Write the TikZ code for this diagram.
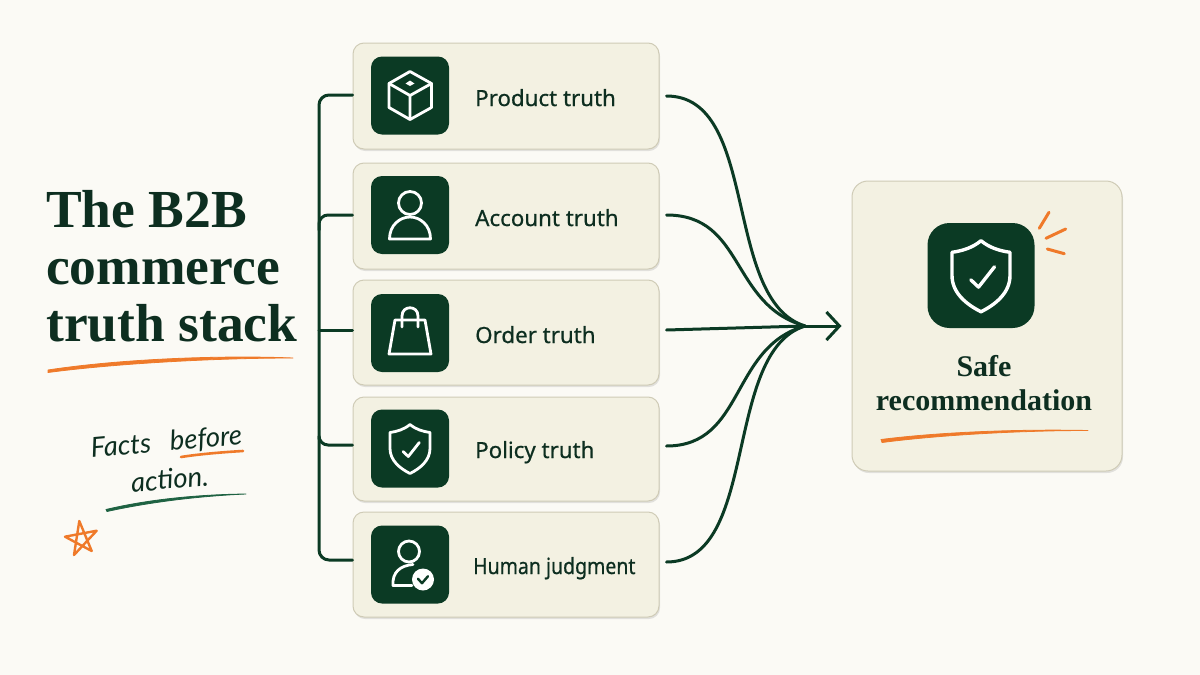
\documentclass[tikz,border=0pt]{standalone}
\usepackage{fontspec}
\setmainfont{Liberation Serif}
\newfontfamily\labelfont[FakeBold=0.6]{Noto Sans}
\newfontfamily\handfont{Lato}
\usetikzlibrary{arrows.meta,shadows}
\definecolor{paper}{HTML}{FBFAF5}
\definecolor{card}{HTML}{F3F1E2}
\definecolor{cardline}{HTML}{CFCBB6}
\definecolor{pine}{HTML}{0B3A24}
\definecolor{ink}{HTML}{0D2E20}
\definecolor{ember}{HTML}{EF7A2A}
\definecolor{moss}{HTML}{1E6242}
\tikzset{
	card/.style={draw=cardline,line width=1pt,fill=card,rounded corners=11pt,minimum width=306pt,
		drop shadow={shadow xshift=1pt,shadow yshift=-2pt,opacity=.1,fill=black}},
	tile/.style={fill=pine,rounded corners=11pt,minimum width=78pt,minimum height=78pt,inner sep=0pt},
	tag/.style={anchor=base west,inner sep=0pt,text=ink,font=\labelfont\fontsize{22.3}{26}\selectfont},
	wire/.style={draw=pine,line width=3pt,line cap=round},
	glyph/.style={draw=white,line width=2.8pt,line join=round,line cap=round},
	stroke/.style={draw=ember,fill=ember,line width=.8pt,line join=round},
	pics/shieldmark/.style={code={
		\draw[glyph] (0,-24) .. controls (6,-19) and (13,-17) .. (20,-16) -- (20,0)
			.. controls (20,12) and (10,20) .. (0,25) .. controls (-10,20) and (-20,12) .. (-20,0)
			-- (-20,-16) .. controls (-13,-17) and (-6,-19) .. (0,-24) -- cycle;
		\draw[glyph] (-7,3) -- (-1.7,8) -- (9.3,-6);
	}},
}
\begin{document}
\begin{tikzpicture}[x=1pt,y=-1pt]
	\fill[paper] (0,0) rectangle (1200,675);
	\useasboundingbox (0,0) rectangle (1200,675);

	% left column
	\node[anchor=north west,inner sep=0pt,align=left,text=ink,font=\bfseries\fontsize{53.5}{57}\selectfont] (title) at (46,190) {The B2B\\commerce\\truth stack};
	\filldraw[stroke] (48,370) .. controls (120,359) and (220,355) .. (293,358) .. controls (220,358) and (120,363) .. (48,372.5) -- cycle;
	\node[rotate=5,inner sep=0pt,align=center,text=ink,font=\handfont\itshape\fontsize{27.5}{38}\selectfont] (note) at (168,460) {Facts\hspace{19pt}before\\action.};
	\draw[ember,line width=2.6pt,line cap=round] (181,457) .. controls (200,454) and (225,452) .. (243,451);
	\filldraw[stroke,draw=moss,fill=moss] (106,509.5) .. controls (150,499) and (200,494.5) .. (246,494) .. controls (200,496) and (150,502) .. (107,511.5) -- cycle;
	\draw[ember,line width=2.4pt,line join=round] (79.3,521) -- (91.7,551) -- (65,536.7) -- (96.7,530.7) -- (74,555) -- cycle;

	% the five cards
	\node[card,minimum height=106pt] (prod) at (506,96) {};
	\node[card,minimum height=106pt] (acct) at (506,216) {};
	\node[card,minimum height=105pt] (order) at (506,332.5) {};
	\node[card,minimum height=104pt] (policy) at (506,449) {};
	\node[card,minimum height=105pt] (human) at (506,564.5) {};

	\node[tile] (prodT) at (410,95.5) {};
	\node[tile] (acctT) at (410,215) {};
	\node[tile] (orderT) at (410,333) {};
	\node[tile] (policyT) at (410,448.5) {};
	\node[tile] (humanT) at (410,564.5) {};

	\node[tag] (prodL) at (475,106) {Product truth};
	\node[tag] (acctL) at (475,226) {Account truth};
	\node[tag] (orderL) at (475,343) {Order truth};
	\node[tag] (policyL) at (475,458) {Policy truth};
	\node[tag,xscale=.875] (humanL) at (473,574) {Human judgment};

	% icons
	\begin{scope}[shift={(prodT.center)}]
		\draw[glyph] (0,-24) -- (21.5,-12) -- (21.5,12) -- (0,24) -- (-21,12) -- (-21,-12) -- cycle;
		\draw[glyph] (-21,-12) -- (0,0) -- (21.5,-12) (0,0) -- (0,24);
		\fill[white] (0,-15) -- (4.5,-12) -- (0,-9.5) -- (-4.5,-12) -- cycle;
	\end{scope}
	\begin{scope}[shift={(acctT.center)}]
		\draw[glyph] (0,-12) circle (11.5);
		\draw[glyph] (-20.5,24) -- (20.5,24) .. controls (20.5,10) and (10,2) .. (0,2) .. controls (-10,2) and (-20.5,10) .. (-20.5,24) -- cycle;
	\end{scope}
	\begin{scope}[shift={(orderT.center)}]
		\draw[glyph] (-15,-13) -- (15,-13) -- (21,21) -- (-21,21) -- cycle;
		\draw[glyph] (-8,-6) -- (-8,-17) .. controls (-8,-28) and (8,-28) .. (8,-17) -- (8,-6);
	\end{scope}
	\pic at (policyT.center) {shieldmark};
	\begin{scope}[shift={(humanT.center)}]
		\draw[glyph] (-1,-13) circle (10.5);
		\draw[glyph] (2,21) -- (-17,21) .. controls (-18,8) and (-10,1) .. (3,0);
		\fill[white] (13,15) circle (11);
		\draw[pine,line width=2.4pt,line cap=round,line join=round] (8,14.3) -- (12,18.7) -- (18,11.7);
	\end{scope}

	% result card
	\node[card,rounded corners=16pt,minimum width=270pt,minimum height=290pt] (safe) at (987,326) {};
	\node[tile,rounded corners=22pt,minimum width=107pt,minimum height=105pt] (safeT) at (981,275.5) {};
	\pic[scale=1.45,glyph/.append style={line width=3.4pt}] at (safeT.center) {shieldmark};
	\draw[ember,line width=3pt,line cap=round] (1039.3,228.3) -- (1049,212.3);
	\draw[ember,line width=3pt,line cap=round] (1046,238.3) -- (1065.7,229);
	\draw[ember,line width=3pt,line cap=round] (1047.3,249) -- (1064.3,253.7);
	\node[inner sep=0pt,align=center,text=ink,font=\bfseries\fontsize{30}{34}\selectfont] (safeL) at (984,383) {Safe\\recommendation};
	\filldraw[stroke] (881,439.5) .. controls (940,432) and (1020,429) .. (1088,430.5) .. controls (1020,430.5) and (940,435) .. (882,442.5) -- cycle;

	% bracket on the left
	\coordinate (bus) at (319,330);
	\draw[wire,rounded corners=10pt] ([yshift=1pt]prod.west) -| (bus) |- ([yshift=4.5pt]human.west);
	\draw[wire,rounded corners=9pt] ([yshift=1pt]acct.west) -| ([yshift=-14pt]acct.west -| bus);
	\draw[wire] ([yshift=2.5pt]order.west) -- (bus);
	\draw[wire,rounded corners=9pt] ([yshift=4pt]policy.west) -| ([yshift=10pt]policy.west -| bus);

	% converging curves
	\coordinate (merge) at (805,326);
	\draw[wire] ([shift={(7,0)}]prod.east) .. controls (760,96) and (722,300) .. (merge);
	\draw[wire] ([shift={(7,-1)}]acct.east) .. controls (745,215) and (730,305) .. (merge);
	\draw[wire] ([shift={(7,-2.5)}]order.east) -- (merge);
	\draw[wire] ([shift={(7,-3)}]policy.east) .. controls (745,446) and (730,347) .. (merge);
	\draw[wire] ([shift={(7,-2.5)}]human.east) .. controls (760,562) and (722,352) .. (merge);
	\draw[wire,shorten >=10pt,-{Straight Barb[length=13pt,width=28pt,line width=3pt]}] (merge) -- (safe.west);
\end{tikzpicture}
\end{document}
